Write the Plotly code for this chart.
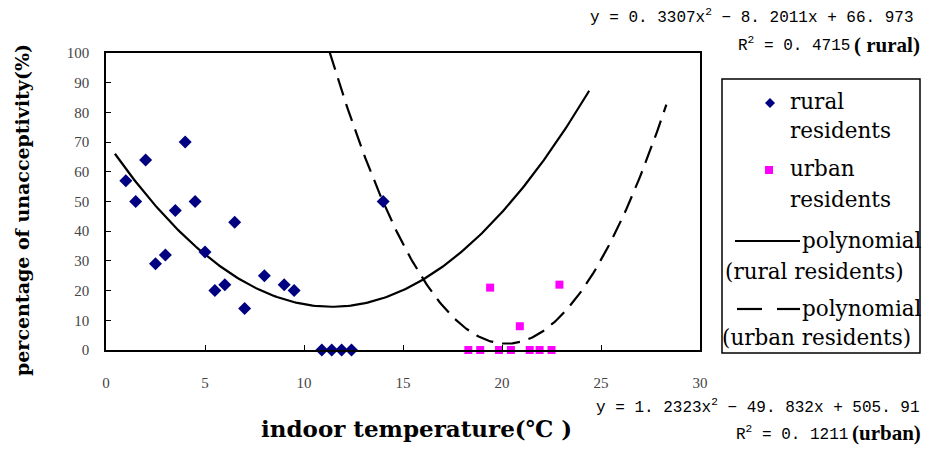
import numpy as np
import plotly.graph_objects as go

# ---------------- data ----------------
rural_temp = [1.0, 1.5, 2.0, 2.5, 3.0, 3.5, 4.0, 4.5, 5.0, 5.5, 6.0, 6.5, 7.0,
              8.0, 9.0, 9.5, 10.9, 11.4, 11.9, 12.4, 14.0]
rural_pct = [57, 50, 64, 29, 32, 47, 70, 50, 33, 20, 22, 43, 14,
             25, 22, 20, 0, 0, 0, 0, 50]

urban_temp = [18.3, 18.9, 19.4, 19.85, 20.45, 20.9, 21.4, 21.9, 22.5, 22.9]
urban_pct = [0, 0, 21, 0, 0, 8, 0, 0, 0, 22]

# polynomial trend lines (coefficients, highest power first) and drawn x-range
rural_curve_coef = [0.43, -9.80, 70.4]
rural_curve_range = [0.45, 24.4]
urban_curve_coef = [1.2323, -49.832, 505.91]
urban_curve_range = [11.3, 28.3]

x_ticks = [0, 5, 10, 15, 20, 25, 30]
y_ticks = [0, 10, 20, 30, 40, 50, 60, 70, 80, 90, 100]

eq_rural = "y = 0. 3307x<sup>2</sup> − 8. 2011x + 66. 973"
r2_rural = "R<sup>2</sup> = 0. 4715"
tag_rural = "( rural)"
eq_urban = "y = 1. 2323x<sup>2</sup> − 49. 832x + 505. 91"
r2_urban = "R<sup>2</sup> = 0. 1211"
tag_urban = "(urban)"

x_title = "indoor temperature(℃ )"
y_title = "percentage of unacceptivity(%)"

# ---------------- layout helpers ----------------
L, R, T, B = 106, 700, 53, 350
W, H = 932, 453


def px(x):
    return (x - L) / (R - L)


def py(y):
    return (B - y) / (B - T)


rx = np.linspace(rural_curve_range[0], rural_curve_range[1], 200)
ry = np.polyval(rural_curve_coef, rx)
ux = np.linspace(urban_curve_range[0], urban_curve_range[1], 200)
uy = np.polyval(urban_curve_coef, ux)

DASH = "18px,9px"
NAVY = "#000080"
MAG = "#FF00FF"

fig = go.Figure()
fig.add_trace(go.Scatter(x=rx, y=ry, mode="lines", line=dict(color="black", width=2.2),
                         showlegend=False, hoverinfo="skip"))
fig.add_trace(go.Scatter(x=ux, y=uy, mode="lines",
                         line=dict(color="black", width=2.2, dash=DASH),
                         showlegend=False, hoverinfo="skip"))
fig.add_trace(go.Scatter(x=rural_temp, y=rural_pct, mode="markers",
                         marker=dict(symbol="diamond", size=10, color=NAVY),
                         showlegend=False, cliponaxis=False))
fig.add_trace(go.Scatter(x=urban_temp, y=urban_pct, mode="markers",
                         marker=dict(symbol="square", size=8, color=MAG),
                         showlegend=False, cliponaxis=False))

tick_font = dict(family="Liberation Serif", size=15, color="#444444")
fig.update_xaxes(range=[0, 30], tickvals=x_ticks, showgrid=False, zeroline=False,
                 showline=True, mirror=True, linecolor="black", linewidth=1.5,
                 ticks="inside", ticklen=5, tickcolor="black", tickfont=tick_font,
                 ticklabelstandoff=18)
fig.update_yaxes(range=[0, 100], tickvals=y_ticks, showgrid=False, zeroline=False,
                 showline=True, mirror=True, linecolor="black", linewidth=1.5,
                 ticks="inside", ticklen=5, tickcolor="black", tickfont=tick_font,
                 ticklabelstandoff=12)

shapes = []
annotations = []

# axis titles
annotations.append(dict(x=px(416), y=py(428), xref="paper", yref="paper", text=f"<b>{x_title}</b>",
                        showarrow=False, font=dict(family="DejaVu Serif", size=23, color="black"),
                        xanchor="center", yanchor="middle"))
annotations.append(dict(x=px(22), y=py(210), xref="paper", yref="paper", text=f"<b>{y_title}</b>",
                        showarrow=False, textangle=-90,
                        font=dict(family="DejaVu Serif", size=19, color="black"),
                        xanchor="center", yanchor="middle"))

# equations
mono = dict(family="Liberation Mono", size=16, color="black")
bold_serif = dict(family="Liberation Serif", size=21, color="black")
annotations += [
    dict(x=px(916), y=py(16), text=eq_rural, xanchor="right", font=mono),
    dict(x=px(852), y=py(45), text=r2_rural, xanchor="right", font=mono),
    dict(x=px(852), y=py(45), text=f"<b>{tag_rural}</b>", xanchor="left", font=bold_serif),
    dict(x=px(922), y=py(406), text=eq_urban, xanchor="right", font=mono),
    dict(x=px(850), y=py(433), text=r2_urban, xanchor="right", font=mono),
    dict(x=px(850), y=py(433), text=f"<b>{tag_urban}</b>", xanchor="left", font=bold_serif),
]
for a in annotations[2:]:
    a.update(xref="paper", yref="paper", showarrow=False, yanchor="middle")

# manual legend
shapes.append(dict(type="rect", xref="paper", yref="paper", x0=px(722), x1=px(920),
                   y0=py(79), y1=py(353), line=dict(color="black", width=1.5)))
cx, cy, s = 770, 103, 5
shapes.append(dict(type="path", xref="paper", yref="paper",
                   path=f"M {px(cx-s)} {py(cy)} L {px(cx)} {py(cy-s)} L {px(cx+s)} {py(cy)} L {px(cx)} {py(cy+s)} Z",
                   fillcolor=NAVY, line=dict(color=NAVY, width=0)))
shapes.append(dict(type="rect", xref="paper", yref="paper", x0=px(765), x1=px(773),
                   y0=py(166), y1=py(174), fillcolor=MAG, line=dict(color=MAG, width=0)))
shapes.append(dict(type="line", xref="paper", yref="paper", x0=px(735), x1=px(800),
                   y0=py(241), y1=py(241), line=dict(color="black", width=2.2)))
shapes.append(dict(type="line", xref="paper", yref="paper", x0=px(737), x1=px(762),
                   y0=py(309), y1=py(309), line=dict(color="black", width=2.2)))
shapes.append(dict(type="line", xref="paper", yref="paper", x0=px(777), x1=px(800),
                   y0=py(309), y1=py(309), line=dict(color="black", width=2.2)))

leg_font = dict(family="DejaVu Serif", size=21.5, color="black")
leg_items = [
    (788, 101, "rural"), (788, 130, "residents"),
    (788, 168, "urban"), (788, 199, "residents"),
    (800, 240, "polynomial"), (723, 271, "(rural residents)"),
    (800, 308, "polynomial"), (720, 337, "(urban residents)"),
]
for x, y, t in leg_items:
    annotations.append(dict(x=px(x), y=py(y), xref="paper", yref="paper", text=t,
                            showarrow=False, xanchor="left", yanchor="middle", font=leg_font))

fig.update_layout(
    width=W, height=H,
    margin=dict(l=L, r=W - R, t=T, b=H - B),
    paper_bgcolor="white", plot_bgcolor="white",
    showlegend=False,
    shapes=shapes, annotations=annotations,
)

fig.write_html("out.html", config={"displayModeBar": False},
               post_script="document.body.style.margin='0px';")
